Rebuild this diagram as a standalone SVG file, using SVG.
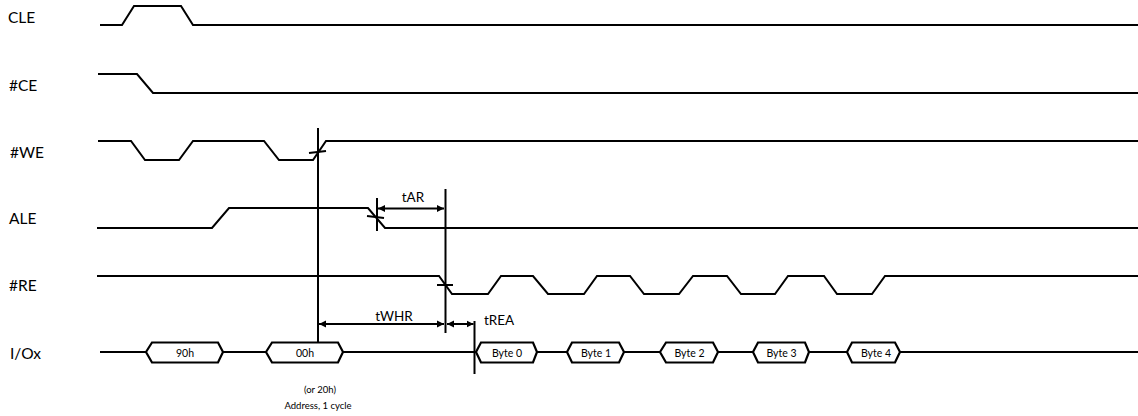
<svg xmlns="http://www.w3.org/2000/svg" width="1138" height="416" viewBox="0 0 1138 416">
<style>
.w{fill:none;stroke:#000;stroke-width:2;stroke-linejoin:miter}
.bx{fill:#fff;stroke:#000;stroke-width:2.2}
.ln{fill:none;stroke:#000;stroke-width:2}
.lbl{font-family:Lato,"Liberation Sans",sans-serif;font-size:15.5px;fill:#000}
.tm{font-family:Lato,"Liberation Sans",sans-serif;font-size:13.5px;fill:#000}
.bt{font-family:Lato,"Liberation Sans",sans-serif;font-size:10.5px;fill:#000;text-anchor:middle}
.nt{font-family:Lato,"Liberation Sans",sans-serif;font-size:9.5px;fill:#000;text-anchor:middle}
</style>
<defs>
<marker id="ah" markerUnits="userSpaceOnUse" markerWidth="8" markerHeight="8" refX="7" refY="4" orient="auto-start-reverse">
<path d="M0,0.5 L7,4 L0,7.5 z" fill="#000"/>
</marker>
</defs>
<rect width="1138" height="416" fill="#fff"/>
<g id="cle">
<text class="lbl" x="8" y="23">CLE</text>
<path class="w" d="M100,25 H122 L134,6 H181 L193,25 H1138"/>
</g>
<g id="ce">
<text class="lbl" x="9" y="91">#CE</text>
<path class="w" d="M98,74 H137 L153,93 H1138"/>
</g>
<g id="we">
<text class="lbl" x="10" y="158">#WE</text>
<path class="w" d="M98,141 H131 L145,160 H179 L193,141 H264 L279,160 H313 L326,141 H1138"/>
</g>
<g id="ale">
<text class="lbl" x="9" y="224">ALE</text>
<path class="w" d="M97,228 H212 L229,208 H368 L385,228 H1138"/>
</g>
<g id="re">
<text class="lbl" x="9" y="291">#RE</text>
<path class="w" d="M97,276 H439 L452,294 H488 L501,276 H533 L548,294 H584 L597,276 H630 L644,294 H679 L693,276 H727 L741,294 H775 L788,276 H824 L837,294 H872 L885,276 H1138"/>
</g>
<g id="io">
<text class="lbl" x="10" y="359">I/Ox</text>
<path class="w" d="M100,352 H1138"/>
</g>
<g id="b90h"><path class="bx" d="M146,352 L152,342.5 H218 L223,352 L218,362.5 H152 Z"/><text class="bt" x="185" y="357">90h</text></g>
<g id="b00h"><path class="bx" d="M266,352 L272,342.5 H338 L343,352 L338,362.5 H272 Z"/><text class="bt" x="305" y="357">00h</text></g>
<g id="byte0"><path class="bx" d="M476,352 L481,342.5 H533 L537,352 L533,362.5 H481 Z"/><text class="bt" x="507" y="357">Byte 0</text></g>
<g id="byte1"><path class="bx" d="M567,352 L572,342.5 H619 L624,352 L619,362.5 H572 Z"/><text class="bt" x="596" y="357">Byte 1</text></g>
<g id="byte2"><path class="bx" d="M660,352 L666,342.5 H713 L718,352 L713,362.5 H666 Z"/><text class="bt" x="689.5" y="357">Byte 2</text></g>
<g id="byte3"><path class="bx" d="M753,352 L758,342.5 H805 L809,352 L805,362.5 H758 Z"/><text class="bt" x="781.5" y="357">Byte 3</text></g>
<g id="byte4"><path class="bx" d="M847,352 L852,342.5 H895 L900,352 L895,362.5 H852 Z"/><text class="bt" x="876" y="357">Byte 4</text></g>
<g id="note">
<text class="nt" x="320" y="393">(or 20h)</text>
<text class="nt" x="318" y="409">Address, 1 cycle</text>
</g>
<g id="connectors">
<path class="ln" d="M318,128 V342"/>
<path class="ln" d="M309,153 L326,151"/>
<path class="ln" d="M377,198 V231"/>
<path class="ln" d="M367,216 L384,218"/>
<path class="ln" d="M445.5,189 V333"/>
<path class="ln" d="M437,285 H453"/>
<path class="ln" d="M474.5,321 V374"/>
<path class="ln" d="M378,208.5 H444" marker-start="url(#ah)" marker-end="url(#ah)"/>
<path class="ln" d="M319,324 H444" marker-start="url(#ah)" marker-end="url(#ah)"/>
<path class="ln" d="M447,324 H473.5" marker-start="url(#ah)" marker-end="url(#ah)"/>
<text class="tm" x="413" y="202" text-anchor="middle">tAR</text>
<text class="tm" x="394" y="320.5" text-anchor="middle">tWHR</text>
<text class="tm" x="484" y="325">tREA</text>
</g>
</svg>
